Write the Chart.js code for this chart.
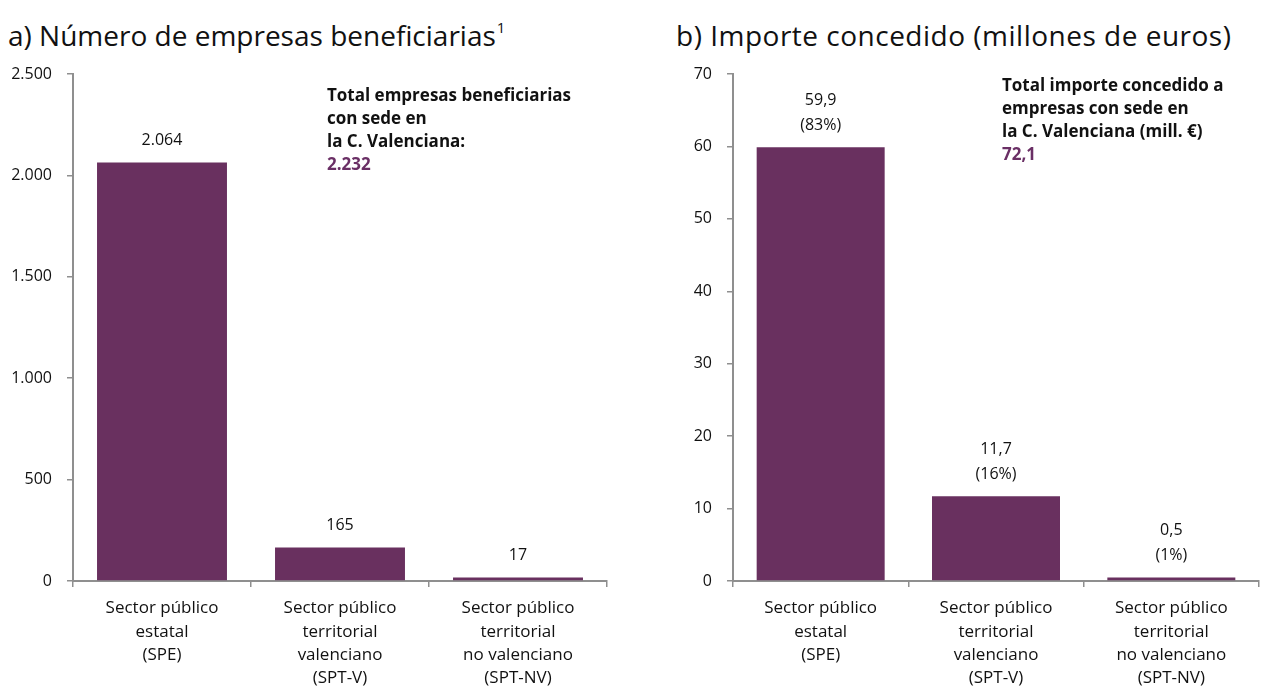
<!DOCTYPE html>
<html>
<head>
    <meta charset="UTF-8">
    <title>Empresas beneficiarias</title>
    <script src="https://cdn.jsdelivr.net/npm/chart.js@4.4.1/dist/chart.umd.min.js"></script>
    <style>
        body { margin: 0; width: 1261px; height: 693px; background: #fff; font-family: "Open Sans", sans-serif; color: #111; position: relative; overflow: hidden; }
        .panel { position: absolute; top: 0; height: 693px; }
        .titulo { position: absolute; top: 16px; font-size: 28px; line-height: 38px; white-space: nowrap; color: #111; }
        .titulo sup { font-size: 15px; line-height: 15px; vertical-align: top; position: relative; top: 4px; margin-left: 1px; }
        .nota { position: absolute; font-size: 17px; font-weight: bold; line-height: 23px; white-space: nowrap; color: #111; }
        .nota .total { color: #6a2f65; }
    </style>
</head>
<body>
    <div class="titulo" style="left:8px;">a) Número de empresas beneficiarias<sup>1</sup></div>
    <div class="titulo" style="left:676px; letter-spacing:0.5px;">b) Importe concedido (millones de euros)</div>

    <div class="panel" style="left:0; width:620px;"><canvas id="chart-a"></canvas></div>
    <div class="panel" style="left:640px; width:621px;"><canvas id="chart-b"></canvas></div>

    <div class="nota" style="left:327px; top:83px;">Total empresas beneficiarias<br>con sede en<br>la C. Valenciana:<br><span class="total">2.232</span></div>
    <div class="nota" style="left:1002px; top:73px;">Total importe concedido a<br>empresas con sede en<br>la C. Valenciana (mill. €)<br><span class="total">72,1</span></div>

    <script>
        // datos
        const categorias = [
            ['Sector público', 'estatal', '(SPE)'],
            ['Sector público', 'territorial', 'valenciano', '(SPT-V)'],
            ['Sector público', 'territorial', 'no valenciano', '(SPT-NV)']
        ];
        const empresas = [2064, 165, 17];
        const importe = [59.9, 11.7, 0.5];
        const importePct = ['(83%)', '(16%)', '(1%)'];
        const ticksEmpresas = { max: 2500, step: 500 };
        const ticksImporte = { max: 70, step: 10 };

        const colorBarra = '#69305f';
        const colorEje = '#8f8f8f';

        // formato español: 2500 -> 2.500, 59.9 -> 59,9
        function fmtMiles(n) {
            return String(n).replace(/\B(?=(\d{3})+(?!\d))/g, '.');
        }
        function fmtDecimal(n) {
            return n.toFixed(1).replace('.', ',');
        }

        // etiquetas encima de cada barra
        const etiquetasPlugin = {
            id: 'etiquetas',
            afterDatasetsDraw(chart, args, opts) {
                const ctx = chart.ctx;
                const meta = chart.getDatasetMeta(0);
                ctx.save();
                ctx.font = '16px "Open Sans"';
                ctx.fillStyle = '#111';
                ctx.textAlign = 'center';
                ctx.textBaseline = 'middle';
                meta.data.forEach(function(bar, i) {
                    const lineas = opts.lineas(i);
                    const n = lineas.length;
                    lineas.forEach(function(txt, j) {
                        ctx.fillText(txt, bar.x, bar.y - 22 - (n - 1 - j) * 25);
                    });
                });
                ctx.restore();
            }
        };

        function crearGrafico(id, valores, ticks, anchoEje, padDerecha, lineas) {
            const ctx = document.getElementById(id).getContext('2d');
            return new Chart(ctx, {
                type: 'bar',
                data: {
                    labels: categorias,
                    datasets: [{
                        data: valores,
                        backgroundColor: colorBarra,
                        borderWidth: 0,
                        barPercentage: 0.73,
                        categoryPercentage: 1.0
                    }]
                },
                options: {
                    responsive: true,
                    maintainAspectRatio: false,
                    animation: false,
                    layout: { padding: { top: 74, right: padDerecha, bottom: 0, left: 0 } },
                    plugins: {
                        legend: { display: false },
                        tooltip: { enabled: false },
                        etiquetas: { lineas: lineas }
                    },
                    scales: {
                        x: {
                            grid: { display: true, drawOnChartArea: false, drawTicks: true, tickLength: 6, color: colorEje, lineWidth: 1.5, offset: true },
                            border: { color: colorEje, width: 2 },
                            ticks: { color: '#111', font: { family: 'Open Sans', size: 17, lineHeight: 1.36 }, padding: 10, maxRotation: 0, autoSkip: false },
                            afterFit(scale) { scale.height = 112; }
                        },
                        y: {
                            min: 0,
                            max: ticks.max,
                            grid: { display: true, drawOnChartArea: false, drawTicks: true, tickLength: 6, color: colorEje, lineWidth: 1.5 },
                            border: { color: colorEje, width: 2 },
                            ticks: {
                                stepSize: ticks.step,
                                color: '#111',
                                font: { family: 'Open Sans', size: 16 },
                                padding: 15,
                                callback: function(v) { return fmtMiles(v); }
                            },
                            afterFit(scale) { scale.width = anchoEje; }
                        }
                    }
                },
                plugins: [etiquetasPlugin]
            });
        }

        crearGrafico('chart-a', empresas, ticksEmpresas, 73, 13, function(i) {
            return [fmtMiles(empresas[i])];
        });
        crearGrafico('chart-b', importe, ticksImporte, 93, 2, function(i) {
            return [fmtDecimal(importe[i]), importePct[i]];
        });
    </script>
</body>
</html>
